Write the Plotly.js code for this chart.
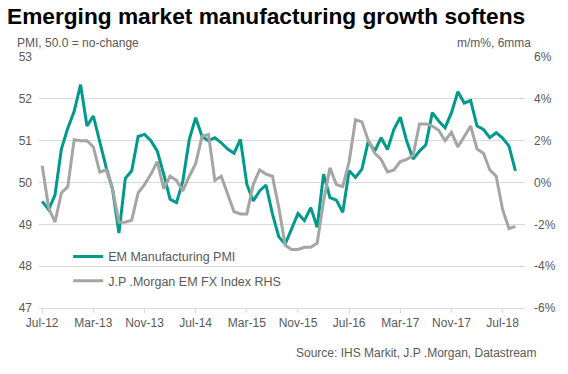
<!DOCTYPE html>
<html>
<head>
<meta charset="utf-8">
<script src="https://cdn.plot.ly/plotly-3.0.1.min.js"></script>
<style>html,body{margin:0;padding:0;background:#fff;}#chart{width:568px;height:374px;}</style>
</head>
<body>
<div id="chart"></div>
<script>
// Monthly, Jul-12 .. Sep-18
const startYear = 2012, startMonth = 6; // July (0-based)
const pmi = [49.55,49.35,49.7,50.8,51.3,51.7,52.34,51.35,51.59,50.95,50.36,49.84,48.79,50.1,50.28,51.1,51.15,51.0,50.75,50.2,
  49.6,49.52,50.04,51.03,51.55,51.1,51.0,51.07,50.95,50.8,50.7,51.03,49.96,49.56,49.8,49.94,49.25,48.7,48.53,48.89,
  49.26,49.09,49.4,48.93,50.2,49.64,49.58,49.29,50.28,50.12,50.32,50.99,50.75,51.07,50.79,51.27,51.56,50.99,50.56,50.75,
  50.9,51.67,51.47,51.31,51.67,52.17,51.9,51.96,51.35,51.27,51.07,51.19,51.06,50.87,50.28];
const fx = [0.8,-1.2,-1.9,-0.5,-0.2,2.05,2.0,2.0,1.7,0.5,0.6,-0.3,-1.9,-1.9,-1.8,-0.5,-0.1,0.4,1.0,-0.3,
  0.3,0.1,-0.4,0.3,0.9,2.2,2.3,0.1,0.3,-0.6,-1.4,-1.5,-1.5,-0.1,0.6,0.4,0.3,-1.2,-3.0,-3.2,
  -3.2,-3.1,-3.1,-2.9,-0.9,0.7,-0.1,-0.2,1.0,3.0,2.9,2.0,1.4,1.1,0.5,0.6,1.0,1.1,1.3,2.8,
  2.8,2.7,2.5,2.0,2.4,1.7,2.2,2.7,1.6,1.4,0.6,0.3,-1.3,-2.2,-2.1];
const xTickLabels = ['Jul-12','Mar-13','Nov-13','Jul-14','Mar-15','Nov-15','Jul-16','Mar-17','Nov-17','Jul-18'];
const leftTicks = [47,48,49,50,51,52,53];
const rightTicks = [-6,-4,-2,0,2,4,6];
const rightTickText = ['-6%','-4%','-2%','0%','2%','4%','6%'];
const seriesNames = ['EM Manufacturing PMI','J.P .Morgan EM FX Index RHS'];

const monNames = ['Jan','Feb','Mar','Apr','May','Jun','Jul','Aug','Sep','Oct','Nov','Dec'];
const months = [];
for (let k = 0; k < 76; k++) {
  const m = (startMonth + k) % 12, y = startYear + Math.floor((startMonth + k) / 12);
  months.push(monNames[m] + '-' + String(y).slice(2));
}

const FONT = 'Arial, "Liberation Sans", sans-serif';
const GREY_TXT = '#595959';
const teal = '#009a8a', grey = '#a5a5a5';

const traces = [
  {x: months.slice(0, fx.length), y: fx, name: seriesNames[1], yaxis: 'y2', type: 'scatter', mode: 'lines',
   line: {color: grey, width: 3}, legendgroup: 'b', legendrank: 2},
  {x: months.slice(0, pmi.length), y: pmi, name: seriesNames[0], yaxis: 'y', type: 'scatter', mode: 'lines',
   line: {color: teal, width: 3}, legendgroup: 'a', legendrank: 1}
];

const layout = {
  width: 568, height: 374,
  margin: {l: 39, r: 43, t: 57, b: 66},
  paper_bgcolor: '#fff', plot_bgcolor: '#fff',
  font: {family: FONT, size: 12, color: GREY_TXT},
  title: {text: '<b>Emerging market manufacturing growth softens</b>', font: {family: FONT, size: 22.7, color: '#000'},
          x: 7/568, xanchor: 'left', xref: 'container', y: 1 - 16/374, yanchor: 'middle', yref: 'container'},
  xaxis: {type: 'category', categoryorder: 'array', categoryarray: months, range: [-0.5, 75.5],
          tickmode: 'array', tickvals: xTickLabels, ticktext: xTickLabels,
          showgrid: false, showline: true, linecolor: '#d9d9d9', linewidth: 1,
          ticks: 'outside', ticklen: 4, tickcolor: '#d9d9d9',
          tickfont: {family: FONT, size: 12, color: GREY_TXT}, zeroline: false, fixedrange: true},
  yaxis: {range: [47, 53], tickmode: 'array', tickvals: leftTicks, showgrid: true, gridcolor: '#d9d9d9', gridwidth: 1,
          zeroline: false, showline: false, ticks: '', ticklabelstandoff: 6,
          tickfont: {family: FONT, size: 12, color: GREY_TXT}},
  yaxis2: {range: [-6, 6], overlaying: 'y', side: 'right', tickmode: 'array', tickvals: rightTicks, ticktext: rightTickText,
           showgrid: false, zeroline: false, showline: false, ticks: '', ticklabelstandoff: 8,
           tickfont: {family: FONT, size: 12, color: GREY_TXT}},
  showlegend: true,
  legend: {x: 0.06, xanchor: 'left', y: 0.263, yanchor: 'top', bgcolor: 'rgba(0,0,0,0)',
           font: {family: FONT, size: 12.5, color: GREY_TXT}, traceorder: 'grouped', tracegroupgap: 5, itemwidth: 30},
  annotations: [
    {text: 'PMI, 50.0 = no-change', xref: 'paper', yref: 'paper', x: -24/486, y: 1 + 14/251, xanchor: 'left', yanchor: 'middle',
     showarrow: false, font: {family: FONT, size: 12, color: GREY_TXT}},
    {text: 'm/m%, 6mma', xref: 'paper', yref: 'paper', x: 1 + 8/486, y: 1 + 14/251, xanchor: 'right', yanchor: 'middle',
     showarrow: false, font: {family: FONT, size: 12, color: GREY_TXT}},
    {text: 'Source: IHS Markit, J.P .Morgan, Datastream', xref: 'paper', yref: 'paper', x: 1 + 14/486, y: -45/251,
     xanchor: 'right', yanchor: 'middle', showarrow: false, font: {family: FONT, size: 12, color: GREY_TXT}}
  ]
};

Plotly.newPlot('chart', traces, layout, {displayModeBar: false, staticPlot: true});
</script>
</body>
</html>
